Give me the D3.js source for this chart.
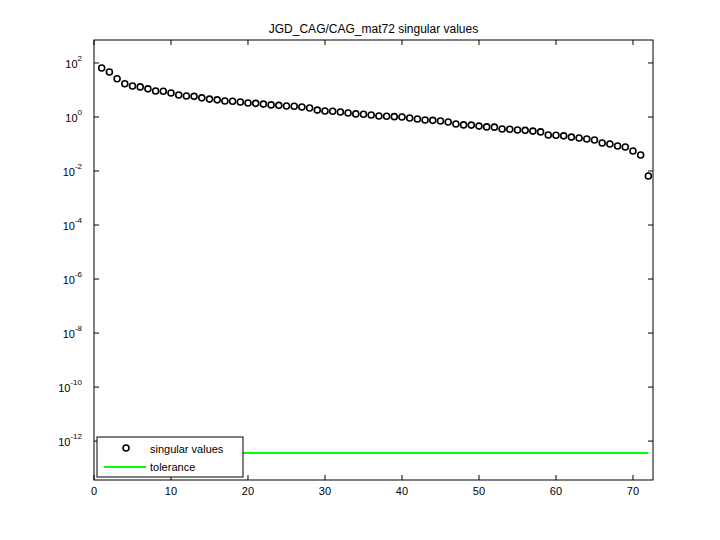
<!DOCTYPE html>
<html><head><meta charset="utf-8">
<script src="https://d3js.org/d3.v7.min.js"></script>
<style>body{margin:0;background:#fff}text{font-family:"Liberation Sans",Arial,sans-serif}</style>
</head><body><svg width="720" height="540"></svg>
<script>
var singularValues = [65,46,26,17,14,13,11,9.2,9.0,7.7,6.5,6.0,5.8,5.1,4.6,4.3,3.9,3.8,3.6,3.3,
  3.2,3.0,2.8,2.7,2.55,2.5,2.35,2.15,1.8,1.67,1.62,1.53,1.4,1.3,1.27,1.19,1.09,1.06,1.03,1.0,
  0.92,0.84,0.77,0.75,0.71,0.65,0.55,0.51,0.5,0.46,0.43,0.42,0.36,0.35,0.33,0.32,0.30,0.28,0.215,0.21,
  0.20,0.18,0.167,0.153,0.14,0.109,0.1,0.084,0.077,0.055,0.039,0.0065];
var tolerance = 3.6e-13;
var xTicks = [0,10,20,30,40,50,60,70];
var yExps = [2,0,-2,-4,-6,-8,-10,-12];

var svg = d3.select("svg");
var L = 94, R = 653, T = 40, B = 480;
var x = d3.scaleLinear().domain([0, 72.6]).range([L, R]);
var y = d3.scaleLog().domain([Math.pow(10,-13.44), Math.pow(10,2.85)]).range([B, T]);

svg.append("rect").attr("x",L).attr("y",T).attr("width",R-L).attr("height",B-T)
  .attr("fill","none").attr("stroke","#000");

xTicks.forEach(function(t){
  svg.append("line").attr("x1",x(t)).attr("x2",x(t)).attr("y1",B).attr("y2",B-5).attr("stroke","#000");
  svg.append("line").attr("x1",x(t)).attr("x2",x(t)).attr("y1",T).attr("y2",T+5).attr("stroke","#000");
  svg.append("text").attr("x",x(t)).attr("y",B+15).attr("text-anchor","middle").attr("font-size",11).text(t);
});
yExps.forEach(function(e){
  var yy = y(Math.pow(10,e));
  svg.append("line").attr("x1",L).attr("x2",L+5).attr("y1",yy).attr("y2",yy).attr("stroke","#000");
  svg.append("line").attr("x1",R).attr("x2",R-5).attr("y1",yy).attr("y2",yy).attr("stroke","#000");
  var tx = svg.append("text").attr("x",L-12).attr("y",yy+5).attr("text-anchor","end").attr("font-size",11);
  tx.append("tspan").text("10");
  tx.append("tspan").attr("dy",-7).attr("font-size",8).text(e);
});

svg.append("text").attr("x",(L+R)/2).attr("y",33).attr("text-anchor","middle").attr("font-size",12)
  .text("JGD_CAG/CAG_mat72 singular values");

svg.append("line").attr("x1",x(1)).attr("x2",x(72)).attr("y1",y(tolerance)).attr("y2",y(tolerance))
  .attr("stroke","#00ff00").attr("stroke-width",2);

svg.selectAll("circle.sv").data(singularValues).enter().append("circle")
  .attr("cx",function(d,i){return x(i+1);}).attr("cy",function(d){return y(d);})
  .attr("r",3).attr("fill","none").attr("stroke","#000").attr("stroke-width",1.6);

var lg = svg.append("g");
lg.append("rect").attr("x",97).attr("y",437).attr("width",146).attr("height",40)
  .attr("fill","#fff").attr("stroke","#000");
lg.append("circle").attr("cx",126).attr("cy",448).attr("r",3).attr("fill","none").attr("stroke","#000").attr("stroke-width",1.6);
lg.append("text").attr("x",150).attr("y",453).attr("font-size",11).text("singular values");
lg.append("line").attr("x1",104).attr("x2",146).attr("y1",467).attr("y2",467).attr("stroke","#00ff00").attr("stroke-width",2);
lg.append("text").attr("x",150).attr("y",471).attr("font-size",11).text("tolerance");
</script></body></html>
